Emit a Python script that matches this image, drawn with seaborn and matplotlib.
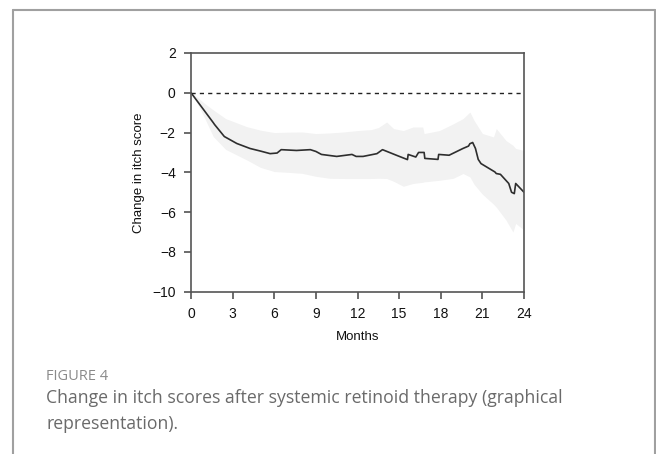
import numpy as np
import pandas as pd
import matplotlib
matplotlib.use("Agg")
import matplotlib.pyplot as plt
import seaborn as sns
from matplotlib.lines import Line2D

# Mean change in itch score
months = [0, 0.8, 1.6, 1.7, 2.4, 3.3, 4.25, 5.0, 5.7, 6.2, 6.5, 7.6, 8.6, 9.0, 9.4,
          10.5, 11.6, 11.9, 12.4, 13.4, 13.8, 14.8, 15.6, 15.65, 16.2, 16.4, 16.8,
          16.85, 17.8, 17.85, 18.6, 19.6, 20.0, 20.1, 20.3, 20.5, 20.7, 20.9, 21.9,
          22.0, 22.3, 22.9, 23.1, 23.3, 23.4, 24.0]
score = [0, -0.75, -1.5, -1.6, -2.2, -2.55, -2.8, -2.93, -3.06, -3.03, -2.86, -2.9,
         -2.86, -2.95, -3.1, -3.2, -3.1, -3.2, -3.2, -3.06, -2.86, -3.14, -3.36, -3.1,
         -3.23, -3.0, -3.0, -3.3, -3.35, -3.1, -3.14, -2.8, -2.68, -2.56, -2.5, -2.8,
         -3.35, -3.56, -3.98, -4.06, -4.1, -4.56, -5.0, -5.07, -4.56, -5.0]

# Confidence band
band_x = [0, 0.5, 1, 1.6, 2.5, 4, 5, 6, 7, 8, 9, 10, 11, 12, 13, 13.5, 14.1, 14.6,
          15.3, 16, 16.7, 16.8, 17.9, 18.9, 19.6, 20.1, 20.4, 21, 21.8, 22, 22.7,
          23.2, 23.4, 24]
band_upper = [0, -0.25, -0.55, -0.86, -1.3, -1.7, -1.88, -2.0, -1.98, -1.97, -2.05,
              -2.02, -1.97, -1.9, -1.85, -1.75, -1.47, -1.8, -1.9, -1.72, -1.72, -2.05,
              -1.9, -1.56, -1.3, -0.97, -1.39, -2.05, -2.22, -1.8, -2.4, -2.64, -2.8, -2.9]
band_lower = [0, -0.6, -1.3, -2.2, -2.85, -3.37, -3.75, -3.96, -4.0, -4.05, -4.2, -4.3,
              -4.31, -4.31, -4.31, -4.3, -4.31, -4.45, -4.7, -4.56, -4.5, -4.48, -4.4,
              -4.3, -4.06, -4.23, -4.6, -5.1, -5.6, -5.75, -6.4, -7.0, -6.57, -6.9]

df = pd.DataFrame({"month": months, "score": score})

sns.set_style("white")
plt.rcParams["font.family"] = ["Liberation Sans", "DejaVu Sans"]

fig = plt.figure(figsize=(6.56, 4.54), dpi=100)
ax = fig.add_axes([0.2912, 0.3575, 0.5076, 0.5258])

# band + mean line
ax.fill_between(band_x, band_lower, band_upper, color="#f2f2f2", linewidth=0)
sns.lineplot(data=df, x="month", y="score", ax=ax, color="#2e2e2e",
             linewidth=1.2, estimator=None, sort=False)
ax.axhline(0, color="#222222", linewidth=1.0, linestyle=(0, (3, 3)))

ax.set_xlim(0, 24)
ax.set_ylim(-10, 2)
ax.set_xticks(range(0, 25, 3))
ax.set_yticks(range(-10, 3, 2))
ax.set_yticklabels(["\u221210", "\u22128", "\u22126", "\u22124", "\u22122", "0", "2"])
ax.tick_params(direction="out", length=5, width=1.1, color="#444444",
               labelsize=10, labelcolor="#111111", pad=6, left=True, bottom=True)
for lab in ax.get_xticklabels() + ax.get_yticklabels():
    lab.set_fontweight("medium")
for s in ax.spines.values():
    s.set_color("#555555")
    s.set_linewidth(1.2)

ax.set_xlabel("Months", fontsize=9.5, color="#111111", labelpad=7)
ax.set_ylabel("Change in itch score", fontsize=9.5, color="#111111", labelpad=5)

# outer frame
frame_kw = dict(color="#a0a0a0", linewidth=1.5, transform=fig.transFigure)
fig.add_artist(Line2D([13/656, 655/656], [1 - 10/454, 1 - 10/454], **frame_kw))
fig.add_artist(Line2D([13/656, 13/656], [1 - 10/454, 0], **frame_kw))
fig.add_artist(Line2D([655/656, 655/656], [1 - 10/454, 0], **frame_kw))

# caption
cap_font = ["Open Sans", "DejaVu Sans"]
fig.text(46/656, 1 - 377/454, "FIGURE 4", fontsize=10.5, color="#8a8a8a",
         family=cap_font, va="center")
fig.text(46/656, 1 - 398/454, "Change in itch scores after systemic retinoid therapy (graphical",
         fontsize=12.7, color="#6a6a6a", family=cap_font, va="center")
fig.text(46/656, 1 - 424/454, "representation).",
         fontsize=12.7, color="#6a6a6a", family=cap_font, va="center")

fig.savefig("out.png", dpi=100)
